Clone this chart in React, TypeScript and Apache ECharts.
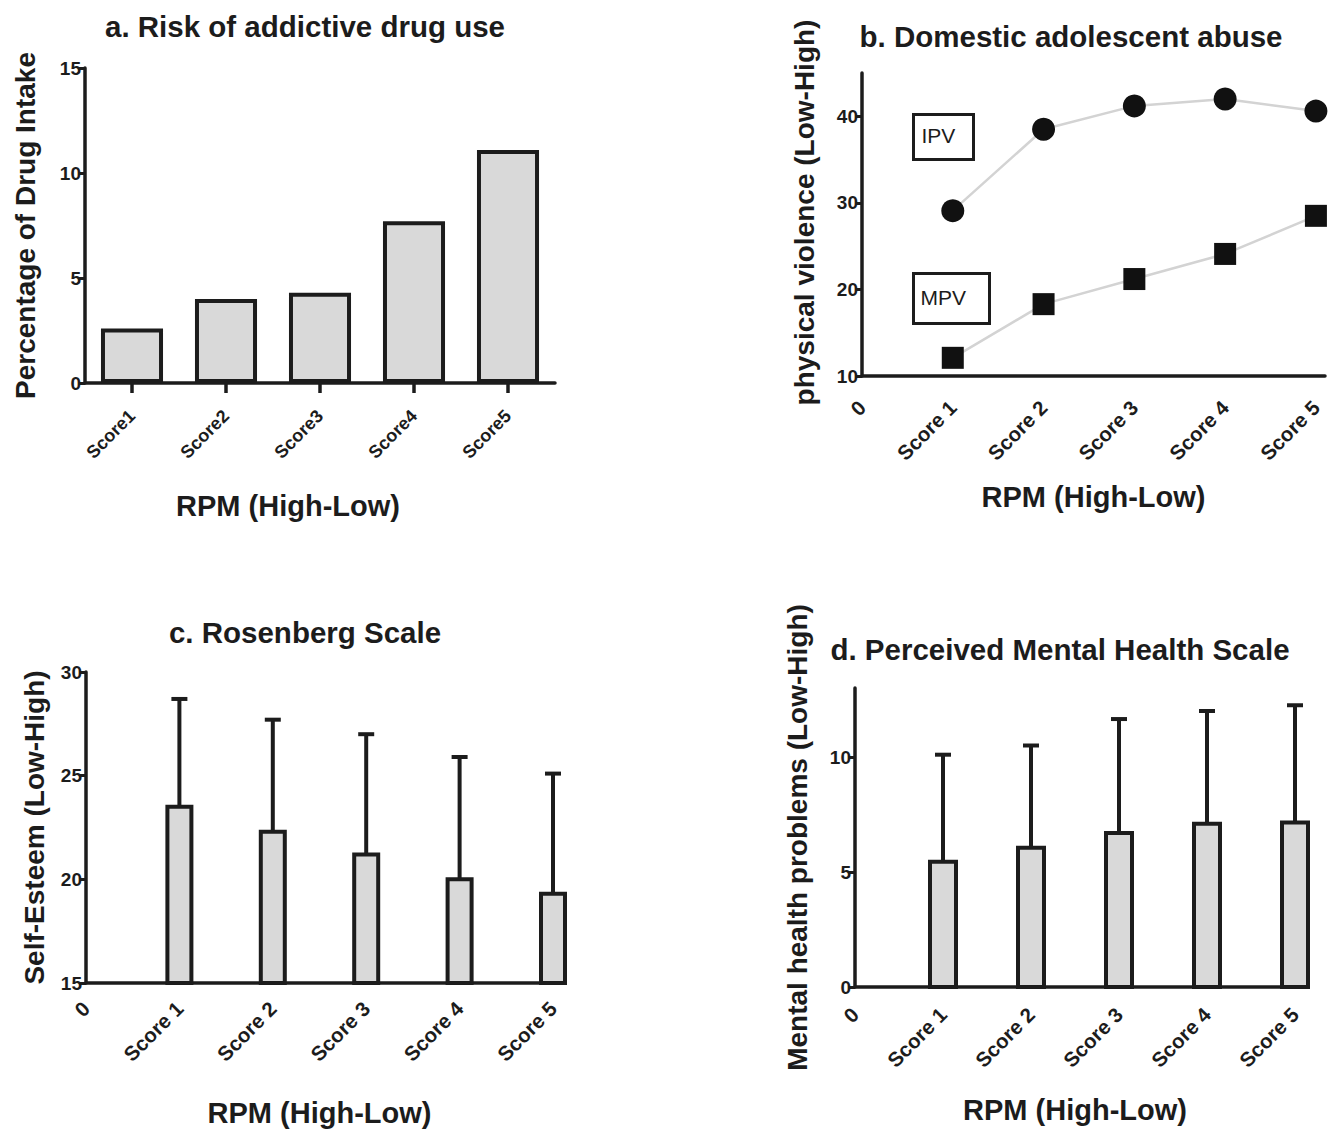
import React, { useEffect, useRef } from "react";
import * as echarts from "echarts";

const drugCategories = ["Score1", "Score2", "Score3", "Score4", "Score5"];
const drugIntake = [2.6, 4.0, 4.3, 7.7, 11.1];

const scorePositions = [1, 2, 3, 4, 5];
const ipvValues = [29.1, 38.5, 41.2, 42.0, 40.6];
const mpvValues = [12.1, 18.3, 21.2, 24.1, 28.5];

const selfEsteemMean = [23.5, 22.3, 21.2, 20.0, 19.3];
const selfEsteemUpper = [28.7, 27.7, 27.0, 25.9, 25.1];

const mentalMean = [5.45, 6.05, 6.7, 7.1, 7.15];
const mentalUpper = [10.1, 10.5, 11.65, 12.0, 12.25];

const yTicksA = [0, 5, 10, 15];
const yTicksB = [10, 20, 30, 40];
const yTicksC = [15, 20, 25, 30];
const yTicksD = [0, 5, 10];
const xTicksScore = [0, 1, 2, 3, 4, 5];

const FONT = "'Liberation Sans', Arial, sans-serif";
const INK = "#1c1c1c";
const FILL = "#d9d9d9";

const scoreLabel = (v: number) => (v === 0 ? "0" : "Score " + v);

function axisLineStyle() {
  return { show: true, lineStyle: { color: INK, width: 3.5 } };
}

function yLabelStyle(ticks: number[]) {
  return {
    customValues: ticks,
    color: INK,
    fontFamily: FONT,
    fontWeight: "bold" as const,
    fontSize: 19,
    margin: 4,
  };
}

function yTickStyle(ticks: number[]) {
  return { show: true, customValues: ticks, length: 6, lineStyle: { color: INK, width: 3 } };
}

function nameStyle(size: number) {
  return { color: INK, fontFamily: FONT, fontWeight: "bold" as const, fontSize: size };
}

function scoreAxisLabel(margin: number) {
  return {
    customValues: xTicksScore,
    formatter: scoreLabel,
    rotate: 45,
    color: INK,
    fontFamily: FONT,
    fontWeight: "bold" as const,
    fontSize: 20.5,
    margin,
  };
}

function errorBarRenderer(yMin: number, barW: number) {
  return (params: any, api: any) => {
    const x = api.value(0);
    const v = api.value(1);
    const e = api.value(2);
    const base = api.coord([x, yMin]);
    const top = api.coord([x, v]);
    const err = api.coord([x, e]);
    const cap = 16;
    return {
      type: "group",
      children: [
        {
          type: "line",
          shape: { x1: top[0], y1: top[1], x2: err[0], y2: err[1] },
          style: { stroke: INK, lineWidth: 4 },
        },
        {
          type: "line",
          shape: { x1: err[0] - cap / 2, y1: err[1], x2: err[0] + cap / 2, y2: err[1] },
          style: { stroke: INK, lineWidth: 4 },
        },
        {
          type: "rect",
          shape: { x: top[0] - barW / 2, y: top[1], width: barW, height: base[1] - top[1] },
          style: { fill: FILL, stroke: INK, lineWidth: 4 },
        },
      ],
    };
  };
}

export default function App() {
  const ref = useRef<HTMLDivElement>(null);

  useEffect(() => {
    document.body.style.margin = "0";
    if (!ref.current) return;
    const chart = echarts.init(ref.current, undefined, { renderer: "svg" });

    const titleStyle = { color: INK, fontFamily: FONT, fontWeight: "bold" as const, fontSize: 29.5 };

    const option: any = {
      animation: false,
      backgroundColor: "#ffffff",
      title: [
        { text: "a. Risk of addictive drug use", left: 300, top: 6, textAlign: "center", textStyle: titleStyle },
        { text: "b. Domestic adolescent abuse", left: 1066, top: 16, textAlign: "center", textStyle: titleStyle },
        { text: "c. Rosenberg Scale", left: 300, top: 612, textAlign: "center", textStyle: titleStyle },
        { text: "d. Perceived Mental Health Scale", left: 1055, top: 629, textAlign: "center", textStyle: titleStyle },
      ],
      grid: [
        { left: 85, top: 68, width: 470, height: 315 },
        { left: 862, top: 73, width: 463, height: 303 },
        { left: 86, top: 672, width: 467, height: 311 },
        { left: 855, top: 688, width: 440, height: 299 },
      ],
      xAxis: [
        {
          gridIndex: 0,
          type: "category",
          data: drugCategories,
          axisLine: axisLineStyle(),
          axisTick: { show: true, alignWithLabel: true, length: 10, lineStyle: { color: INK, width: 3.5 } },
          axisLabel: {
            rotate: 45,
            color: INK,
            fontFamily: FONT,
            fontWeight: "bold",
            fontSize: 18,
            margin: 30,
          },
          name: "RPM (High-Low)",
          nameLocation: "middle",
          nameGap: 108,
          nameTextStyle: { ...nameStyle(29), padding: [0, 64, 0, 0] },
        },
        {
          gridIndex: 1,
          type: "value",
          min: 0,
          max: 5.1,
          interval: 1,
          axisLine: axisLineStyle(),
          axisTick: { show: false },
          splitLine: { show: false },
          axisLabel: scoreAxisLabel(28),
          name: "RPM (High-Low)",
          nameLocation: "middle",
          nameGap: 106,
          nameTextStyle: nameStyle(29),
        },
        {
          gridIndex: 2,
          type: "value",
          min: 0,
          max: 5,
          interval: 1,
          axisLine: axisLineStyle(),
          axisTick: { show: false },
          splitLine: { show: false },
          axisLabel: scoreAxisLabel(22),
          name: "RPM (High-Low)",
          nameLocation: "middle",
          nameGap: 115,
          nameTextStyle: nameStyle(29),
        },
        {
          gridIndex: 3,
          type: "value",
          min: 0,
          max: 5,
          interval: 1,
          axisLine: axisLineStyle(),
          axisTick: { show: false },
          splitLine: { show: false },
          axisLabel: scoreAxisLabel(24),
          name: "RPM (High-Low)",
          nameLocation: "middle",
          nameGap: 108,
          nameTextStyle: nameStyle(29),
        },
      ],
      yAxis: [
        {
          gridIndex: 0,
          type: "value",
          min: 0,
          max: 15,
          interval: 5,
          axisLine: axisLineStyle(),
          axisTick: yTickStyle(yTicksA),
          axisLabel: yLabelStyle(yTicksA),
          splitLine: { show: false },
          name: "Percentage of Drug Intake",
          nameLocation: "middle",
          nameGap: 46,
          nameTextStyle: nameStyle(28),
        },
        {
          gridIndex: 1,
          type: "value",
          min: 10,
          max: 45,
          interval: 10,
          axisLine: axisLineStyle(),
          axisTick: yTickStyle(yTicksB),
          axisLabel: yLabelStyle(yTicksB),
          splitLine: { show: false },
          name: "physical violence (Low-High)",
          nameLocation: "middle",
          nameGap: 44,
          nameTextStyle: { ...nameStyle(28), padding: [0, 0, 0, 24] },
        },
        {
          gridIndex: 2,
          type: "value",
          min: 15,
          max: 30,
          interval: 5,
          axisLine: axisLineStyle(),
          axisTick: yTickStyle(yTicksC),
          axisLabel: yLabelStyle(yTicksC),
          splitLine: { show: false },
          name: "Self-Esteem (Low-High)",
          nameLocation: "middle",
          nameGap: 38,
          nameTextStyle: nameStyle(28),
        },
        {
          gridIndex: 3,
          type: "value",
          min: 0,
          max: 13,
          interval: 5,
          axisLine: axisLineStyle(),
          axisTick: yTickStyle(yTicksD),
          axisLabel: yLabelStyle(yTicksD),
          splitLine: { show: false },
          name: "Mental health problems (Low-High)",
          nameLocation: "middle",
          nameGap: 44,
          nameTextStyle: nameStyle(28),
        },
      ],
      series: [
        {
          type: "bar",
          xAxisIndex: 0,
          yAxisIndex: 0,
          data: drugIntake,
          barCategoryGap: "34%",
          itemStyle: { color: FILL, borderColor: INK, borderWidth: 4 },
        },
        {
          type: "line",
          name: "IPV",
          xAxisIndex: 1,
          yAxisIndex: 1,
          data: scorePositions.map((x, i) => [x, ipvValues[i]]),
          symbol: "circle",
          symbolSize: 23,
          itemStyle: { color: "#111111" },
          lineStyle: { color: "#d3d3d3", width: 2.5 },
        },
        {
          type: "line",
          name: "MPV",
          xAxisIndex: 1,
          yAxisIndex: 1,
          data: scorePositions.map((x, i) => [x, mpvValues[i]]),
          symbol: "rect",
          symbolSize: 22,
          itemStyle: { color: "#111111" },
          lineStyle: { color: "#d3d3d3", width: 2.5 },
        },
        {
          type: "custom",
          xAxisIndex: 2,
          yAxisIndex: 2,
          data: scorePositions.map((x, i) => [x, selfEsteemMean[i], selfEsteemUpper[i]]),
          renderItem: errorBarRenderer(15, 24),
        },
        {
          type: "custom",
          xAxisIndex: 3,
          yAxisIndex: 3,
          data: scorePositions.map((x, i) => [x, mentalMean[i], mentalUpper[i]]),
          renderItem: errorBarRenderer(0, 26),
        },
      ],
      graphic: [
        {
          type: "group",
          left: 912,
          top: 113,
          children: [
            { type: "rect", shape: { x: 0, y: 0, width: 60, height: 45 }, style: { fill: "#fff", stroke: INK, lineWidth: 3 } },
            {
              type: "text",
              x: 8,
              y: 10,
              style: { text: "IPV", fill: INK, font: `21px ${FONT}` },
            },
          ],
        },
        {
          type: "group",
          left: 912,
          top: 272,
          children: [
            { type: "rect", shape: { x: 0, y: 0, width: 76, height: 50 }, style: { fill: "#fff", stroke: INK, lineWidth: 3 } },
            {
              type: "text",
              x: 7,
              y: 13,
              style: { text: "MPV", fill: INK, font: `21px ${FONT}` },
            },
          ],
        },
      ],
    };

    chart.setOption(option);
    return () => chart.dispose();
  }, []);

  return <div ref={ref} style={{ width: 1330, height: 1130 }} />;
}
